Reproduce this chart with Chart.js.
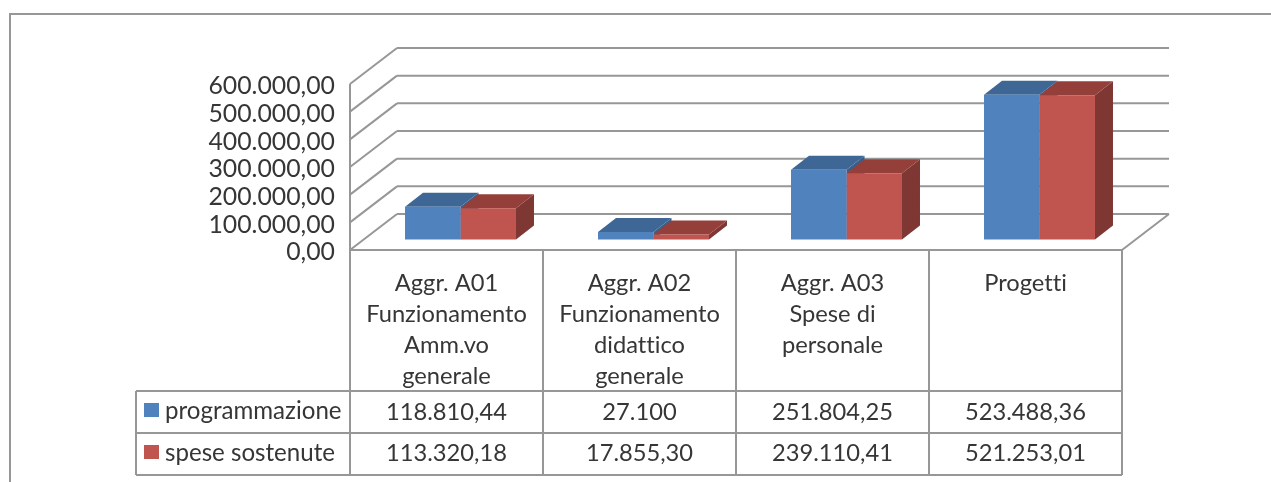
<!DOCTYPE html>
<html>
<head>
<meta charset="utf-8">
<style>
html, body { margin: 0; padding: 0; background: #fff; overflow: hidden; }
canvas { display: block; filter: blur(0.55px); }
</style>
<script src="https://cdn.jsdelivr.net/npm/chart.js@4/dist/chart.umd.min.js"></script>
</head>
<body>
<canvas id="chart" width="1271" height="482"></canvas>
<script>
const categories = [
	['Aggr. A01', 'Funzionamento', 'Amm.vo', 'generale'],
	['Aggr. A02', 'Funzionamento', 'didattico', 'generale'],
	['Aggr. A03', 'Spese di', 'personale'],
	['Progetti']
];
const programmazione = [118810.44, 27100, 251804.25, 523488.36];
const speseSostenute = [113320.18, 17855.30, 239110.41, 521253.01];
const programmazioneText = ['118.810,44', '27.100', '251.804,25', '523.488,36'];
const speseSostenuteText = ['113.320,18', '17.855,30', '239.110,41', '521.253,01'];

const FONT = '23.7px Lato, Carlito, sans-serif';
const TICK_FONT = '24.8px Lato, Carlito, sans-serif';
const KEY_FONT = '24.1px Lato, Carlito, sans-serif';
const TEXT = '#363636';
const LINE = '#979797';

// depth of the floor / wall and of the boxes
const WALL_DX = 47, WALL_DY = -36;
const BAR_DX = 18, BAR_DY = -14;
// bars stand in the middle of the floor, not on the front edge
const SHIFT_X = 14, SHIFT_Y = -10.5;

function line(ctx, x1, y1, x2, y2) {
	ctx.beginPath();
	ctx.moveTo(x1, y1);
	ctx.lineTo(x2, y2);
	ctx.stroke();
}

function poly(ctx, pts, color) {
	ctx.fillStyle = color;
	ctx.beginPath();
	pts.forEach((p, i) => i ? ctx.lineTo(p[0], p[1]) : ctx.moveTo(p[0], p[1]));
	ctx.closePath();
	ctx.fill();
}

const walls = {
	id: 'walls',
	beforeDatasetsDraw(chart) {
		const { ctx, chartArea: a, scales: { y } } = chart;
		ctx.save();
		ctx.strokeStyle = LINE;
		ctx.lineWidth = 2;
		// outer frame of the pasted picture
		line(ctx, 10, 14, 1271, 14);
		line(ctx, 10, 13, 10, 482);
		y.ticks.forEach(t => {
			const py = y.getPixelForValue(t.value);
			line(ctx, a.left, py, a.left + WALL_DX, py + WALL_DY);
			line(ctx, a.left + WALL_DX, py + WALL_DY, a.right + WALL_DX, py + WALL_DY);
		});
		line(ctx, a.left, a.top, a.left, a.bottom);
		line(ctx, a.right, a.bottom, a.right + WALL_DX, a.bottom + WALL_DY);
		ctx.restore();

		// box tops and sides, then the bars themselves, all moved onto the floor
		ctx.save();
		ctx.translate(SHIFT_X, SHIFT_Y);
		chart.data.datasets.forEach((ds, i) => {
			chart.getDatasetMeta(i).data.forEach(b => {
				const l = b.x - b.width / 2, r = b.x + b.width / 2;
				poly(ctx, [[r, b.y], [r + BAR_DX, b.y + BAR_DY], [r + BAR_DX, b.base + BAR_DY], [r, b.base]], ds.sideColor);
				poly(ctx, [[l, b.y], [l + BAR_DX, b.y + BAR_DY], [r + BAR_DX, b.y + BAR_DY], [r, b.y]], ds.topColor);
			});
		});
	},
	afterDatasetsDraw(chart) {
		chart.ctx.restore();
	}
};

const dataTable = {
	id: 'dataTable',
	afterDraw(chart) {
		const { ctx, chartArea: a, scales: { x, y } } = chart;
		const rowTop = a.bottom + 141, rowMid = rowTop + 42, rowEnd = rowMid + 42;
		const keyLeft = 136, lineGap = 31, firstLine = a.bottom + 33;
		const half = (x.getPixelForValue(1) - x.getPixelForValue(0)) / 2;
		ctx.save();
		ctx.strokeStyle = LINE;
		ctx.lineWidth = 2;
		line(ctx, a.left, a.bottom, a.right, a.bottom);
		line(ctx, keyLeft, rowTop, a.right, rowTop);
		line(ctx, keyLeft, rowMid, a.right, rowMid);
		line(ctx, keyLeft, rowEnd, a.right, rowEnd);
		line(ctx, keyLeft, rowTop, keyLeft, rowEnd);
		categories.forEach((c, i) => line(ctx, x.getPixelForValue(i) - half, a.bottom, x.getPixelForValue(i) - half, rowEnd));
		line(ctx, a.right, a.bottom, a.right, rowEnd);

		// no "tt" ligature, the original font has none
		ctx.textRendering = 'optimizeSpeed';
		ctx.fillStyle = TEXT;
		ctx.textBaseline = 'middle';

		// y labels sit a little under their tick
		ctx.font = TICK_FONT;
		ctx.textAlign = 'right';
		y.ticks.forEach(t => ctx.fillText(t.label, a.left - 15, y.getPixelForValue(t.value) + 2.5));

		ctx.font = FONT;
		ctx.textAlign = 'center';
		categories.forEach((c, i) => {
			const cx = x.getPixelForValue(i);
			c.forEach((t, j) => ctx.fillText(t, cx, firstLine + j * lineGap));
			ctx.fillText(programmazioneText[i], cx, rowTop + 21);
			ctx.fillText(speseSostenuteText[i], cx, rowMid + 20);
		});
		ctx.font = KEY_FONT;
		chart.data.datasets.forEach((ds, i) => {
			const top = rowTop + i * 42;
			ctx.fillStyle = ds.backgroundColor;
			ctx.fillRect(keyLeft + 8, top + 12, 15, 14);
			ctx.fillStyle = TEXT;
			ctx.textAlign = 'left';
			ctx.fillText(ds.label, keyLeft + 29, top + 20);
		});
		ctx.restore();
	}
};

new Chart(document.getElementById('chart'), {
	type: 'bar',
	data: {
		labels: categories,
		datasets: [
			{ label: 'programmazione', data: programmazione, backgroundColor: '#5082be', topColor: '#3f6795', sideColor: '#3a5f8c', clip: false },
			{ label: 'spese sostenute', data: speseSostenute, backgroundColor: '#c0544f', topColor: '#953f3b', sideColor: '#7e3733', clip: false }
		]
	},
	options: {
		responsive: false,
		animation: false,
		layout: { padding: { top: 84, right: 149, bottom: 232, left: 0 } },
		categoryPercentage: 0.575,
		barPercentage: 1,
		plugins: {
			legend: { display: false },
			tooltip: { enabled: false }
		},
		scales: {
			x: { display: false },
			y: {
				min: 0,
				max: 600000,
				afterFit(s) { s.width = 350; },
				grid: { display: false },
				border: { display: false },
				ticks: {
					display: false,
					stepSize: 100000,
					callback: v => v.toLocaleString('it-IT', { minimumFractionDigits: 2, useGrouping: true })
				}
			}
		}
	},
	plugins: [walls, dataTable]
});
</script>
</body>
</html>
